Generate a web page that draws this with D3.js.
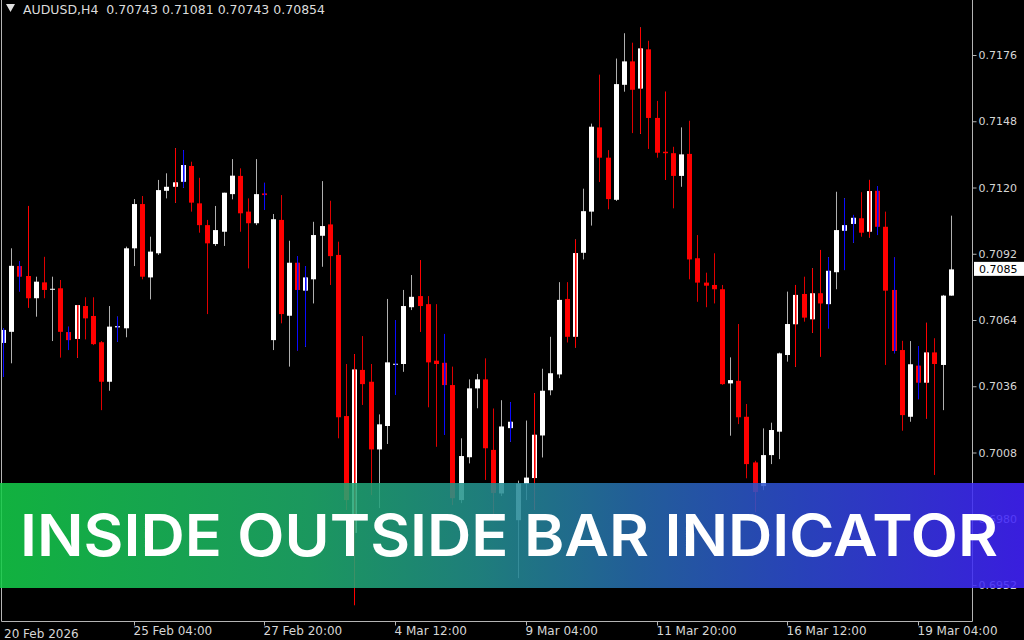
<!DOCTYPE html>
<html><head><meta charset="utf-8">
<script src="https://cdn.jsdelivr.net/npm/d3@7/dist/d3.min.js"></script>
<style>html,body{margin:0;padding:0;background:#000;overflow:hidden}</style>
</head><body>
<svg id="c" width="1024" height="640"></svg>
<script>
// ---- data (AUDUSD, H4) ----
const symbolTitle = "AUDUSD,H4";
const opens = [
0.70543,0.70590,0.70868,0.70826,0.70732,0.70799,0.70771,0.70774,0.70589,0.70560,
0.70699,0.70657,0.70546,0.70379,0.70609,0.70605,0.70943,0.71130,0.70820,0.70922,
0.71186,0.71203,0.71224,0.71291,0.71133,0.71041,0.70961,0.71013,0.71172,0.71249,
0.71098,0.71049,0.71175,0.70555,0.71063,0.70658,0.70882,0.70764,0.70812,0.70996,
0.71044,0.70915,0.70234,0.69740,0.70429,0.70379,0.70093,0.70192,0.70455,0.70454,
0.70694,0.70741,0.70707,0.70468,0.70459,0.70365,0.69879,0.70060,0.70351,0.70389,
0.70091,0.69907,0.70183,0.69794,0.69947,0.69972,0.70152,0.70343,0.70410,0.70729,
0.70569,0.70924,0.71098,0.71454,0.71326,0.71148,0.71634,0.71733,0.71618,0.71784,
0.71494,0.71351,0.71345,0.71249,0.71342,0.70901,0.70798,0.70788,0.70770,0.70372,
0.70383,0.70231,0.70038,0.69938,0.70069,0.70168,0.70492,0.70622,0.70750,0.70643,
0.70753,0.70707,0.70842,0.71017,0.71046,0.71070,0.71013,0.71186,0.71034,0.70767,
0.70513,0.70231,0.70447,0.70375,0.70503,0.70450,0.70743];
const highs = [
0.70606,0.70943,0.70889,0.71122,0.70823,0.70907,0.70823,0.70809,0.70612,0.70703,
0.70736,0.70736,0.70551,0.70699,0.70654,0.70950,0.71151,0.71164,0.70992,0.71232,
0.71260,0.71366,0.71358,0.71309,0.71241,0.71063,0.71122,0.71178,0.71320,0.71281,
0.71154,0.71320,0.71220,0.71088,0.71168,0.70975,0.70910,0.70868,0.71055,0.71227,
0.71144,0.70971,0.70454,0.70496,0.70572,0.70454,0.70241,0.70729,0.70640,0.70767,
0.70830,0.70893,0.70741,0.70707,0.70581,0.70443,0.70140,0.70389,0.70412,0.70478,
0.70266,0.70301,0.70293,0.69961,0.70215,0.70330,0.70434,0.70569,0.70800,0.70800,
0.70980,0.71195,0.71470,0.71677,0.71358,0.71745,0.71852,0.71812,0.71876,0.71820,
0.71566,0.71605,0.71372,0.71454,0.71482,0.70999,0.70840,0.70922,0.70788,0.70482,
0.70623,0.70285,0.70045,0.70182,0.70206,0.70502,0.70760,0.70788,0.70823,0.70858,
0.70936,0.70905,0.71182,0.71154,0.71084,0.71180,0.71232,0.71206,0.71098,0.70905,
0.70552,0.70551,0.70530,0.70628,0.70563,0.70746,0.71081];
const lows = [
0.70399,0.70457,0.70760,0.70692,0.70654,0.70732,0.70551,0.70481,0.70513,0.70481,
0.70558,0.70534,0.70259,0.70341,0.70548,0.70567,0.70868,0.70812,0.70727,0.70915,
0.71154,0.71136,0.71199,0.71098,0.71009,0.70665,0.70953,0.70953,0.71150,0.71013,
0.70858,0.71041,0.71105,0.70513,0.70626,0.70443,0.70510,0.70527,0.70710,0.70865,
0.70788,0.70140,0.69837,0.69435,0.70281,0.69900,0.69845,0.70116,0.70323,0.70421,
0.70682,0.70590,0.70271,0.70104,0.70154,0.69858,0.69866,0.70034,0.70267,0.69964,
0.69794,0.69896,0.70126,0.69549,0.69879,0.69837,0.70059,0.70322,0.70394,0.70545,
0.70524,0.70896,0.71039,0.71223,0.71108,0.71143,0.71605,0.71430,0.71427,0.71363,
0.71326,0.71232,0.71112,0.71203,0.70812,0.70717,0.70694,0.70710,0.70366,0.70151,
0.70200,0.69971,0.69828,0.69921,0.70031,0.70052,0.70464,0.70443,0.70633,0.70586,
0.70485,0.70605,0.70770,0.70851,0.70967,0.70992,0.70989,0.70999,0.70450,0.70499,
0.70172,0.70210,0.70305,0.70224,0.69985,0.70259,0.70743];
const closes = [
0.70598,0.70869,0.70823,0.70732,0.70802,0.70767,0.70772,0.70590,0.70555,0.70703,
0.70647,0.70538,0.70379,0.70612,0.70614,0.70943,0.71130,0.70823,0.70929,0.71189,
0.71203,0.71222,0.71295,0.71136,0.71041,0.70964,0.71020,0.71178,0.71250,0.71091,
0.71049,0.71172,0.71168,0.71066,0.70665,0.70882,0.70767,0.70820,0.70999,0.71037,
0.70910,0.70229,0.69879,0.70431,0.70369,0.70093,0.70199,0.70461,0.70455,0.70699,
0.70738,0.70699,0.70461,0.70454,0.70365,0.69887,0.70065,0.70351,0.70389,0.70098,
0.69909,0.70190,0.70210,0.69949,0.69974,0.70155,0.70341,0.70415,0.70725,0.70569,
0.70923,0.71100,0.71457,0.71326,0.71151,0.71637,0.71733,0.71613,0.71788,0.71494,
0.71347,0.71345,0.71249,0.71340,0.70896,0.70798,0.70785,0.70770,0.70369,0.70386,
0.70229,0.70031,0.69913,0.70069,0.70175,0.70499,0.70623,0.70746,0.70650,0.70753,
0.70710,0.70848,0.71020,0.71041,0.71072,0.71009,0.71185,0.71034,0.70764,0.70509,
0.70238,0.70453,0.70375,0.70503,0.70454,0.70743,0.70854];
const insideBars  = [0,2,8,14,22,32,36,37,48,54,62,101,103,104,107,109,112];
const outsideBars = [3,9,21,43,51,65,70,78,81,97,99,100,106,113];
const priceTicks = [0.6952,0.6980,0.7008,0.7036,0.7064,0.7092,0.7120,0.7148,0.7176];
const timeTickIdx = [16,32,48,64,80,96,112];
const timeLabels = ["25 Feb 04:00","27 Feb 20:00","4 Mar 12:00","9 Mar 04:00","11 Mar 20:00","16 Mar 12:00","19 Mar 04:00"];
const firstLabel = "20 Feb 2026";
const bannerText = "INSIDE OUTSIDE BAR INDICATOR";

// ---- drawing ----
const W = 1024, H = 640, plotR = 972, plotB = 621;
const N = opens.length;
const bars = d3.range(N).map(i => ({i, o: opens[i], h: highs[i], l: lows[i], c: closes[i],
  kind: insideBars.includes(i) ? "in" : (outsideBars.includes(i) ? "out" : "")}));
const svg = d3.select("#c");
svg.append("rect").attr("width", W).attr("height", H).attr("fill", "#000");

const x = d3.scaleLinear().domain([0, N - 1]).range([3, 950.7]);
const y = d3.scaleLinear().domain([0.6952, 0.7176]).range([585, 55]);
const cx = i => Math.round(x(i));

svg.append("clipPath").attr("id", "pc").append("rect").attr("x", 0).attr("y", 0).attr("width", plotR).attr("height", plotB);
const g = svg.append("g").attr("clip-path", "url(#pc)");

const bull = d => d.c >= d.o;
const overlayCol = {in: "#0a0aff", out: "#ff0000"};

const cg = g.selectAll("g.bar").data(bars).enter().append("g").attr("class", "bar");
cg.append("line")
  .attr("x1", d => cx(d.i) + 0.5).attr("x2", d => cx(d.i) + 0.5)
  .attr("y1", d => y(d.h)).attr("y2", d => y(d.l))
  .attr("stroke", d => bull(d) ? "#b0b0b0" : "#e00000").attr("stroke-width", 1);
cg.append("rect")
  .attr("x", d => cx(d.i) - 2).attr("width", 5)
  .attr("y", d => y(Math.max(d.o, d.c)))
  .attr("height", d => Math.max(1, Math.abs(y(d.o) - y(d.c))))
  .attr("fill", d => bull(d) ? "#ffffff" : "#ff0000");
const ov = cg.filter(d => d.kind);
ov.append("line")
  .attr("x1", d => cx(d.i) + 0.5).attr("x2", d => cx(d.i) + 0.5)
  .attr("y1", d => y(d.h)).attr("y2", d => y(d.l))
  .attr("stroke", d => overlayCol[d.kind]).attr("stroke-width", 1);
ov.append("rect")
  .attr("x", d => cx(d.i)).attr("width", 1.6)
  .attr("y", d => y(Math.max(d.o, d.c)))
  .attr("height", d => Math.max(1, Math.abs(y(d.o) - y(d.c))))
  .attr("fill", d => overlayCol[d.kind]);

// frame
const fr = svg.append("g").attr("stroke", "#b4b4b4").attr("stroke-width", 1);
fr.append("line").attr("x1", 1.5).attr("x2", 1.5).attr("y1", 0).attr("y2", plotB + 0.5);
fr.append("line").attr("x1", plotR + 0.5).attr("x2", plotR + 0.5).attr("y1", 0).attr("y2", plotB + 0.5);
fr.append("line").attr("x1", 1.5).attr("x2", plotR + 0.5).attr("y1", plotB + 0.5).attr("y2", plotB + 0.5);

// right price axis
const ay = svg.append("g").attr("transform", `translate(${plotR + 0.5},0)`)
  .call(d3.axisRight(y).tickValues(priceTicks).tickFormat(d3.format(".4f")).tickSize(4).tickSizeOuter(0));
ay.select(".domain").remove();
ay.attr("font-family", "DejaVu Sans").attr("font-size", 11);
ay.selectAll("line").attr("stroke", "#b4b4b4");
ay.selectAll("text").attr("fill", "#d6d6d6").attr("x", 6);

// bottom time axis
const ax = svg.append("g").attr("transform", `translate(0,${plotB + 0.5})`)
  .call(d3.axisBottom(x).tickValues(timeTickIdx).tickFormat((d, k) => timeLabels[k]).tickSize(4).tickSizeOuter(0));
ax.select(".domain").remove();
ax.attr("font-family", "DejaVu Sans").attr("font-size", 12);
ax.selectAll(".tick").attr("transform", d => `translate(${cx(d) + 0.5},0)`);
ax.selectAll("line").attr("stroke", "#b4b4b4");
ax.selectAll("text").attr("fill", "#d6d6d6").attr("text-anchor", "start").attr("x", -1).attr("y", 5);
svg.append("text").attr("x", 4).attr("y", 637.5).attr("fill", "#d6d6d6")
  .attr("font-family", "DejaVu Sans").attr("font-size", 12).text(firstLabel);

// current price label
const last = bars[N - 1];
const ly = y(last.c);
svg.append("rect").attr("x", 974).attr("y", ly - 7.5).attr("width", 50).attr("height", 14).attr("fill", "#ffffff");
svg.append("text").attr("x", 979).attr("y", ly + 4).attr("fill", "#000")
  .attr("font-family", "DejaVu Sans").attr("font-size", 11).text(d3.format(".4f")(last.c));

// header
svg.append("path").attr("d", "M6,4 L15,4 L10.5,12 Z").attr("fill", "#e0e0e0");
const f5 = d3.format(".5f");
svg.append("text").attr("x", 23).attr("y", 14).attr("fill", "#dcdcdc")
  .attr("font-family", "DejaVu Sans").attr("font-size", 12.5).attr("xml:space", "preserve")
  .text(`${symbolTitle}  ${f5(last.o)} ${f5(last.h)} ${f5(last.l)} ${f5(last.c)}`);

// banner
const defs = svg.append("defs");
const lg = defs.append("linearGradient").attr("id", "bg").attr("x1", "0%").attr("x2", "100%");
[[0, "#14cc48"], [0.3, "#1fae6c"], [0.47, "#23908e"], [0.62, "#276caf"], [0.78, "#2e4cd4"], [1, "#4222ff"]]
  .forEach(([o, c]) => lg.append("stop").attr("offset", o).attr("stop-color", c));
svg.append("rect").attr("x", 0).attr("y", 483).attr("width", W).attr("height", 105)
  .attr("fill", "url(#bg)").attr("opacity", 0.87);
svg.append("text").attr("x", 20).attr("y", 556).attr("fill", "#fff")
  .attr("font-family", "Inter, 'Open Sans', sans-serif").attr("font-weight", 600).attr("font-size", 58)
  .attr("textLength", 978).attr("lengthAdjust", "spacingAndGlyphs").text(bannerText);
</script>
</body></html>
